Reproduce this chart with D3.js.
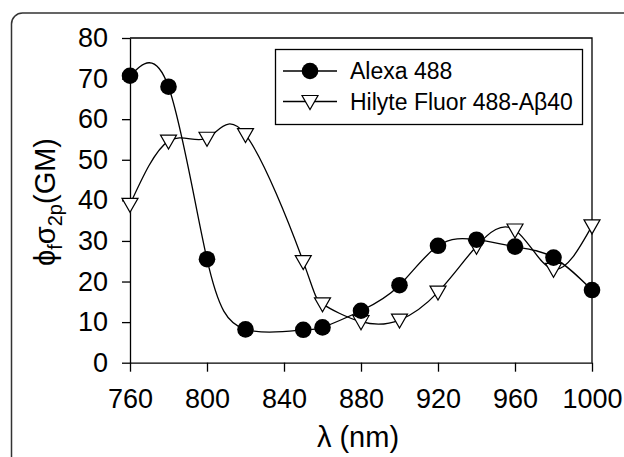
<!DOCTYPE html>
<html>
<head>
<meta charset="utf-8">
<script src="https://cdn.jsdelivr.net/npm/d3@7"></script>
<style>
    body { margin: 0; background: #fff; }
    svg { display: block; font-family: "Liberation Sans", Arial, sans-serif; }
</style>
</head>
<body>
<div id="chart"></div>
<script>
(function () {
    'use strict';

    // wavelengths (nm) and action cross sections (GM)
    var alexaX = [760, 780, 800, 820, 850, 860, 880, 900, 920, 940, 960, 980, 1000];
    var alexaY = [70.7, 68, 25.5, 8.2, 8.1, 8.7, 12.8, 19.1, 28.8, 30.3, 28.6, 25.9, 17.9];
    var hilyteX = [760, 780, 800, 820, 850, 860, 880, 900, 920, 940, 960, 980, 1000];
    var hilyteY = [39, 54.6, 55.3, 56.2, 24.9, 14.5, 10.1, 10.5, 17.4, 28.7, 32.7, 23, 33.7];
    var xTicks = [760, 800, 840, 880, 920, 960, 1000];
    var yTicks = [0, 10, 20, 30, 40, 50, 60, 70, 80];
    var seriesNames = ["Alexa 488", "Hilyte Fluor 488-A\u03b240"];

    var width = 624, height = 457;
    var plot = {left: 130, right: 592, top: 38, bottom: 362.7};

    var svg = d3.select("#chart")
        .append("svg")
        .attr("width", width)
        .attr("height", height);

    // rounded outer frame, runs off the right and bottom edges
    svg.append("rect")
        .attr("x", 11.5)
        .attr("y", 13)
        .attr("width", 660)
        .attr("height", 480)
        .attr("rx", 11)
        .attr("fill", "none")
        .attr("stroke", "#333")
        .attr("stroke-width", 1.5);

    var x = d3.scaleLinear().domain([760, 1000]).range([plot.left, plot.right]);
    var y = d3.scaleLinear().domain([0, 80]).range([plot.bottom, plot.top]);

    // plot box (top + right)
    svg.append("path")
        .attr("d", "M" + plot.left + "," + plot.top + "H" + plot.right + "V" + plot.bottom)
        .attr("fill", "none")
        .attr("stroke", "#000")
        .attr("stroke-width", 1.3);

    var xAxis = svg.append("g")
        .attr("transform", "translate(0," + plot.bottom + ")")
        .call(d3.axisBottom(x).tickValues(xTicks).tickFormat(d3.format("d"))
            .tickSize(9).tickPadding(17).tickSizeOuter(0));

    var yAxis = svg.append("g")
        .attr("transform", "translate(" + plot.left + ",0)")
        .call(d3.axisLeft(y).tickValues(yTicks).tickFormat(d3.format("d"))
            .tickSize(8).tickPadding(14).tickSizeOuter(0));

    [xAxis, yAxis].forEach(function (ax) {
        ax.select(".domain").attr("stroke", "#000").attr("stroke-width", 1.3);
        ax.selectAll(".tick line").attr("stroke", "#000").attr("stroke-width", 1.3);
        ax.selectAll(".tick text")
            .attr("fill", "#000")
            .style("font-size", "27px")
            .style("font-family", "'Liberation Sans', Arial, sans-serif");
    });

    // axis titles
    svg.append("text")
        .attr("x", (plot.left + plot.right) / 2 - 3)
        .attr("y", 447)
        .attr("text-anchor", "middle")
        .style("font-size", "29px")
        .text("\u03bb (nm)");

    var yTitle = svg.append("text")
        .attr("transform", "translate(55," + 202 + ") rotate(-90)")
        .attr("text-anchor", "middle")
        .style("font-size", "29px");
    yTitle.append("tspan").text("\u03d5");
    yTitle.append("tspan").attr("dy", 7).style("font-size", "20px").text("f");
    yTitle.append("tspan").attr("dy", -7).text("\u03c3");
    yTitle.append("tspan").attr("dy", 7).style("font-size", "20px").text("2p");
    yTitle.append("tspan").attr("dy", -7).text("(GM)");

    var line = d3.line()
        .x(function (d) { return x(d[0]); })
        .y(function (d) { return y(d[1]); })
        .curve(d3.curveNatural);

    var alexa = d3.zip(alexaX, alexaY);
    var hilyte = d3.zip(hilyteX, hilyteY);

    svg.append("path")
        .datum(hilyte)
        .attr("d", line)
        .attr("fill", "none")
        .attr("stroke", "#000")
        .attr("stroke-width", 1.3);

    svg.append("path")
        .datum(alexa)
        .attr("d", line)
        .attr("fill", "none")
        .attr("stroke", "#000")
        .attr("stroke-width", 1.3);

    var triangle = "M-8,-6L8,-6L0,8Z";

    function drawTriangles(sel) {
        sel.append("path")
            .attr("d", triangle)
            .attr("fill", "#fff")
            .attr("stroke", "#000")
            .attr("stroke-width", 1.2);
    }

    function drawCircles(sel) {
        sel.append("circle")
            .attr("r", 8.3)
            .attr("fill", "#000");
    }

    svg.selectAll("g.hilyte")
        .data(hilyte)
        .enter()
        .append("g")
        .attr("class", "hilyte")
        .attr("transform", function (d) { return "translate(" + x(d[0]) + "," + y(d[1]) + ")"; })
        .call(drawTriangles);

    svg.selectAll("g.alexa")
        .data(alexa)
        .enter()
        .append("g")
        .attr("class", "alexa")
        .attr("transform", function (d) { return "translate(" + x(d[0]) + "," + y(d[1]) + ")"; })
        .call(drawCircles);

    // legend
    var legend = svg.append("g");
    legend.append("rect")
        .attr("x", 275.5)
        .attr("y", 49.5)
        .attr("width", 307)
        .attr("height", 75)
        .attr("fill", "#fff")
        .attr("stroke", "#000")
        .attr("stroke-width", 1.3);

    var rows = legend.selectAll("g.row")
        .data(seriesNames)
        .enter()
        .append("g")
        .attr("class", "row")
        .attr("transform", function (d, i) { return "translate(0," + (71 + i * 30.5) + ")"; });

    rows.append("line")
        .attr("x1", 283)
        .attr("x2", 337)
        .attr("stroke", "#000")
        .attr("stroke-width", 1.3);

    rows.filter(function (d, i) { return i === 0; }).append("g")
        .attr("transform", "translate(310,0)")
        .call(drawCircles);
    rows.filter(function (d, i) { return i === 1; }).append("g")
        .attr("transform", "translate(310,0)")
        .call(drawTriangles);

    rows.append("text")
        .attr("x", 350)
        .attr("dy", "0.36em")
        .style("font-size", "23px")
        .text(function (d) { return d; });
})();
</script>
</body>
</html>
